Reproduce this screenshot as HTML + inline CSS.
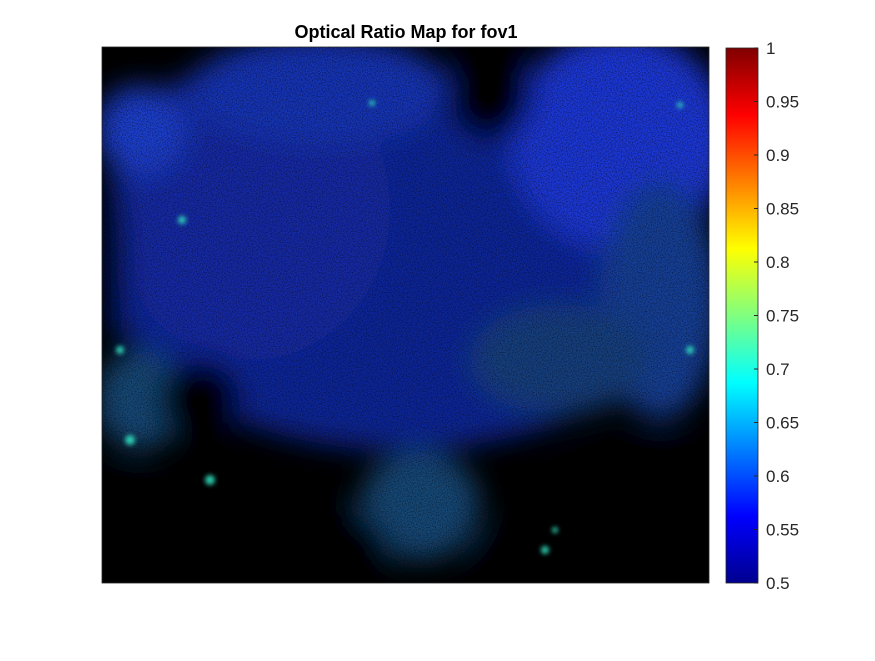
<!DOCTYPE html>
<html><head><meta charset="utf-8"><style>
body{margin:0;background:#fff;width:875px;height:656px;overflow:hidden;font-family:"Liberation Sans",sans-serif}
</style></head><body>
<svg width="875" height="656">
<defs>
<filter id="blur12" x="-50%" y="-50%" width="200%" height="200%"><feGaussianBlur stdDeviation="14"/></filter>
<filter id="blur4"><feGaussianBlur stdDeviation="2.5"/></filter>
<filter id="noise" x="0" y="0" width="100%" height="100%">
<feTurbulence type="fractalNoise" baseFrequency="0.8" numOctaves="2" seed="3"/>
<feColorMatrix type="matrix" values="0 0 0 0 0  0 0 0 0 0  0 0 0 0 0  0 0 0 -1.8 1.1" />
</filter>
<linearGradient id="jet" x1="0" y1="1" x2="0" y2="0">
<stop offset="0" stop-color="#00008f"/><stop offset="0.125" stop-color="#0000ff"/>
<stop offset="0.375" stop-color="#00ffff"/><stop offset="0.625" stop-color="#ffff00"/>
<stop offset="0.875" stop-color="#ff0000"/><stop offset="1" stop-color="#800000"/>
</linearGradient>
<clipPath id="imgclip"><rect x="102" y="47" width="607" height="536"/></clipPath>
</defs>
<text x="406" y="38" text-anchor="middle" font-size="18" font-weight="bold">Optical Ratio Map for fov1</text>
<g clip-path="url(#imgclip)">
<rect x="102" y="47" width="607" height="536" fill="#000"/>
<g filter="url(#blur12)">
<ellipse cx="400" cy="280" rx="290" ry="170" fill="#10269a"/>
<ellipse cx="250" cy="210" rx="140" ry="150" fill="#122aa6"/>
<ellipse cx="620" cy="140" rx="110" ry="110" fill="#1a38d8"/>
<ellipse cx="660" cy="300" rx="60" ry="120" fill="#184098"/>
<ellipse cx="140" cy="130" rx="45" ry="45" fill="#1c40d0"/>
<ellipse cx="320" cy="90" rx="130" ry="55" fill="#1434b8"/>
<ellipse cx="420" cy="505" rx="60" ry="55" fill="#154a78"/>
<ellipse cx="140" cy="400" rx="45" ry="50" fill="#154a78"/>
<ellipse cx="560" cy="360" rx="90" ry="55" fill="#134080"/>
<ellipse cx="490" cy="90" rx="42" ry="50" fill="#000"/>
<ellipse cx="200" cy="400" rx="40" ry="40" fill="#000"/>
<ellipse cx="650" cy="520" rx="120" ry="80" fill="#000"/>
<ellipse cx="240" cy="550" rx="150" ry="60" fill="#000"/>
<ellipse cx="120" cy="530" rx="60" ry="60" fill="#000"/>
<ellipse cx="540" cy="560" rx="70" ry="40" fill="#000"/>
<ellipse cx="112" cy="260" rx="14" ry="80" fill="#050a30"/>
</g>
<rect x="102" y="47" width="607" height="536" filter="url(#noise)" opacity="0.6"/>
<g fill="#30e0c0" filter="url(#blur4)" opacity="0.9">
<circle cx="130" cy="440" r="5"/><circle cx="210" cy="480" r="5"/><circle cx="545" cy="550" r="4"/>
<circle cx="182" cy="220" r="4"/><circle cx="372" cy="103" r="3"/><circle cx="120" cy="350" r="4"/>
<circle cx="680" cy="105" r="3"/><circle cx="555" cy="530" r="3"/><circle cx="690" cy="350" r="4"/>
</g>
</g>
<rect x="102" y="47" width="607" height="536" fill="none" stroke="#262626" stroke-width="0.8"/>
<rect x="726" y="48" width="32" height="535" fill="url(#jet)" stroke="#262626" stroke-width="0.8"/>
<g id="cticks" font-size="17" fill="#262626"></g>
</svg>
<script>
const tickValues = [0.5,0.55,0.6,0.65,0.7,0.75,0.8,0.85,0.9,0.95,1];
const tickLabels = ["0.5","0.55","0.6","0.65","0.7","0.75","0.8","0.85","0.9","0.95","1"];
const cMin = 0.5, cMax = 1;
function yScale(v){return 583 - (v - cMin)/(cMax - cMin)*535;}
const g = document.getElementById('cticks');
const ns = 'http://www.w3.org/2000/svg';
tickValues.forEach((v,i)=>{
  const y = yScale(v);
  const l = document.createElementNS(ns,'line');
  l.setAttribute('x1',754);l.setAttribute('x2',758);l.setAttribute('y1',y);l.setAttribute('y2',y);
  l.setAttribute('stroke','#262626');
  
  
  g.appendChild(l);
  const t = document.createElementNS(ns,'text');
  t.setAttribute('x',766);t.setAttribute('y',y+6);
  t.textContent = tickLabels[i];
  
  
  g.appendChild(t);
});
</script>
</body></html>
